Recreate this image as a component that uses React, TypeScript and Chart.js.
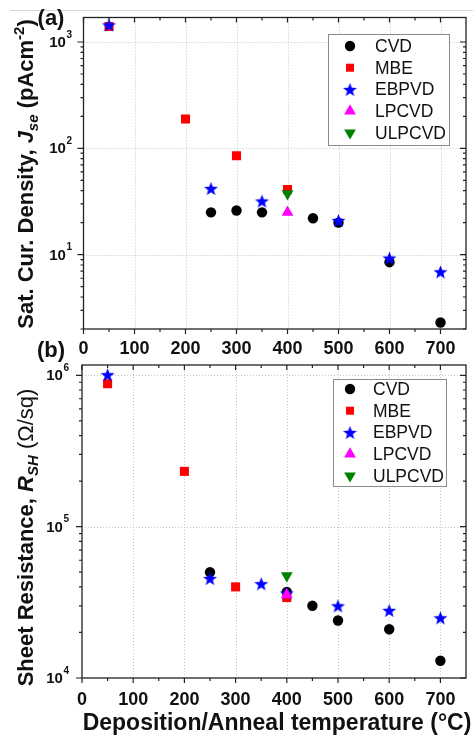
import React, { useEffect, useRef } from 'react';
import { Chart, registerables } from 'chart.js';

Chart.register(...registerables);

const FONT = '"Liberation Sans", Arial, Helvetica, sans-serif';

// ---- shared axis / legend data ----
const xTickValues = [0, 100, 200, 300, 400, 500, 600, 700];
const xTickLabels = ['0', '100', '200', '300', '400', '500', '600', '700'];
const xMinorValues = [50, 150, 250, 350, 450, 550, 650];
const seriesNames = ['CVD', 'MBE', 'EBPVD', 'LPCVD', 'ULPCVD'];
const seriesColors = ['#000000', '#ff0000', '#0000ff', '#ff00ff', '#008000'];
const xTitle = 'Deposition/Anneal temperature (°C)';

// ---- panel (a): saturation current density, pA/cm² ----
const cvdTempA = [250, 300, 350, 450, 500, 600, 700];
const cvdJse = [25, 26, 25, 22, 20, 8.5, 2.3];
const mbeTempA = [50, 200, 300, 400];
const mbeJse = [1400, 189, 85, 41];
const ebpvdTempA = [50, 250, 350, 500, 600, 700];
const ebpvdJse = [1450, 42, 32, 21, 9.3, 6.9];
const lpcvdTempA = [400];
const lpcvdJse = [25];
const ulpcvdTempA = [400];
const ulpcvdJse = [37.5];
const yTickValuesA = [10, 100, 1000];
const yTickExpA = ['1', '2', '3'];

// ---- panel (b): sheet resistance, Ω/sq ----
const cvdTempB = [250, 400, 450, 500, 600, 700];
const cvdRsh = [50000, 37000, 30000, 24000, 21000, 13000];
const mbeTempB = [50, 200, 300, 400];
const mbeRsh = [880000, 232000, 40000, 34000];
const ebpvdTempB = [50, 250, 350, 400, 500, 600, 700];
const ebpvdRsh = [1010000, 45500, 42000, 36500, 30000, 28000, 25000];
const lpcvdTempB = [400];
const lpcvdRsh = [35500];
const ulpcvdTempB = [400];
const ulpcvdRsh = [47500];
const yTickValuesB = [10000, 100000, 1000000];
const yTickExpB = ['4', '5', '6'];

type Seg = { t: string; f: string; dy?: number };

function makeStar(size: number, color: string): HTMLCanvasElement {
  const c = document.createElement('canvas');
  c.width = size;
  c.height = size;
  const g = c.getContext('2d')!;
  const cx = size / 2;
  const cy = size / 2 + size * 0.05;
  const R = size / 2 - 0.2;
  const r = R * 0.42;
  g.beginPath();
  for (let i = 0; i < 10; i++) {
    const ang = -Math.PI / 2 + (i * Math.PI) / 5;
    const rad = i % 2 === 0 ? R : r;
    g.lineTo(cx + rad * Math.cos(ang), cy + rad * Math.sin(ang));
  }
  g.closePath();
  g.fillStyle = color;
  g.fill();
  return c;
}

function drawMarker(ctx: CanvasRenderingContext2D, idx: number, x: number, y: number, star: HTMLCanvasElement) {
  ctx.save();
  ctx.fillStyle = seriesColors[idx];
  ctx.beginPath();
  if (idx === 0) {
    ctx.arc(x, y, 5.2, 0, Math.PI * 2);
    ctx.fill();
  } else if (idx === 1) {
    ctx.fillRect(x - 4, y - 4, 8, 8);
  } else if (idx === 2) {
    ctx.drawImage(star, x - star.width / 2, y - star.height / 2);
  } else {
    const r = 6.8;
    const s = idx === 3 ? 1 : -1;
    ctx.moveTo(x, y - s * r);
    ctx.lineTo(x + r * 0.866, y + s * r * 0.5);
    ctx.lineTo(x - r * 0.866, y + s * r * 0.5);
    ctx.closePath();
    ctx.fill();
  }
  ctx.restore();
}

type PanelCfg = {
  letter: string;
  letterY: number;
  yTicks: number[];
  yExp: string[];
  yLabelRight: number;
  yTitle: Seg[];
  yTitleCenter: number;
  xLabelBaseline: number;
  xTitleBaseline: number | null;
  legend: { left: number; top: number; right: number; bottom: number; mx: number; tx: number; y0: number; step: number };
  topRule: boolean;
};

function makeDecor(cfg: PanelCfg, star: HTMLCanvasElement) {
  return {
    id: 'panelDecor',
    beforeDatasetsDraw(chart: any) {
      const { ctx, chartArea: a, scales } = chart;
      const x = scales.x;
      const y = scales.y;
      ctx.save();
      ctx.strokeStyle = '#c4c4c4';
      ctx.lineWidth = 1;
      ctx.setLineDash([1, 2]);
      for (const v of xTickValues) {
        if (v === 0) continue;
        const px = Math.round(x.getPixelForValue(v)) + 0.5;
        ctx.beginPath();
        ctx.moveTo(px, a.top);
        ctx.lineTo(px, a.bottom);
        ctx.stroke();
      }
      for (const v of cfg.yTicks) {
        const py = Math.round(y.getPixelForValue(v)) + 0.5;
        if (py > a.bottom - 2) continue;
        ctx.beginPath();
        ctx.moveTo(a.left, py);
        ctx.lineTo(a.right, py);
        ctx.stroke();
      }
      ctx.restore();
    },
    afterDatasetsDraw(chart: any) {
      const { ctx, chartArea: a, scales } = chart;
      const x = scales.x;
      const y = scales.y;
      ctx.save();

      if (cfg.topRule) {
        ctx.strokeStyle = '#d6d6d6';
        ctx.lineWidth = 1;
        ctx.beginPath();
        ctx.moveTo(10, 10.5);
        ctx.lineTo(473, 10.5);
        ctx.stroke();
      }

      // frame
      ctx.strokeStyle = '#222';
      ctx.lineWidth = 1.3;
      ctx.strokeRect(a.left, a.top, a.right - a.left, a.bottom - a.top);

      // tick marks: outward on left/bottom, inward on right/top
      ctx.lineWidth = 1.2;
      const tickX = (v: number, len: number) => {
        const px = x.getPixelForValue(v);
        ctx.beginPath();
        ctx.moveTo(px, a.bottom);
        ctx.lineTo(px, a.bottom + len);
        ctx.moveTo(px, a.top);
        ctx.lineTo(px, a.top + len);
        ctx.stroke();
      };
      xTickValues.forEach((v) => tickX(v, 5));
      xMinorValues.forEach((v) => tickX(v, 3));
      const tickY = (v: number, len: number) => {
        const py = y.getPixelForValue(v);
        ctx.beginPath();
        ctx.moveTo(a.left, py);
        ctx.lineTo(a.left - len, py);
        ctx.moveTo(a.right, py);
        ctx.lineTo(a.right - len, py);
        ctx.stroke();
      };
      const lo = Math.floor(Math.log10(y.min));
      const hi = Math.ceil(Math.log10(y.max));
      for (let d = lo; d <= hi; d++) {
        for (let m = 1; m <= 9; m++) {
          const v = m * Math.pow(10, d);
          if (v < y.min * 0.999 || v > y.max) continue;
          tickY(v, m === 1 ? 6 : 3);
        }
      }

      // x tick labels
      ctx.fillStyle = '#111';
      ctx.font = `bold 18px ${FONT}`;
      ctx.textAlign = 'center';
      ctx.textBaseline = 'alphabetic';
      xTickValues.forEach((v, i) => {
        ctx.fillText(xTickLabels[i], x.getPixelForValue(v), cfg.xLabelBaseline);
      });

      // y tick labels (10 with superscript exponent)
      cfg.yTicks.forEach((v, i) => {
        const py = y.getPixelForValue(v);
        ctx.font = `bold 10px ${FONT}`;
        const ew = ctx.measureText(cfg.yExp[i]).width;
        ctx.textAlign = 'left';
        ctx.textBaseline = 'middle';
        ctx.fillText(cfg.yExp[i], cfg.yLabelRight - ew, py - 7);
        ctx.font = `bold 15px ${FONT}`;
        ctx.textAlign = 'right';
        ctx.fillText('10', cfg.yLabelRight - ew - 0.5, py + 1);
      });

      // rotated y title with sub/superscripts
      ctx.save();
      ctx.translate(32.5, cfg.yTitleCenter);
      ctx.rotate(-Math.PI / 2);
      ctx.textAlign = 'left';
      ctx.textBaseline = 'alphabetic';
      let total = 0;
      for (const s of cfg.yTitle) {
        ctx.font = `${s.f} ${FONT}`;
        total += ctx.measureText(s.t).width;
      }
      let cx = -total / 2;
      for (const s of cfg.yTitle) {
        ctx.font = `${s.f} ${FONT}`;
        ctx.fillText(s.t, cx, s.dy || 0);
        cx += ctx.measureText(s.t).width;
      }
      ctx.restore();

      // x title
      if (cfg.xTitleBaseline !== null) {
        ctx.font = `bold 23px ${FONT}`;
        ctx.textAlign = 'center';
        ctx.textBaseline = 'alphabetic';
        ctx.fillText(xTitle, 277, cfg.xTitleBaseline);
      }

      // panel letter
      ctx.font = `bold 22px ${FONT}`;
      ctx.textAlign = 'center';
      ctx.textBaseline = 'middle';
      ctx.fillText(cfg.letter, 51, cfg.letterY);

      // legend
      const L = cfg.legend;
      ctx.fillStyle = '#ffffff';
      ctx.fillRect(L.left, L.top, L.right - L.left, L.bottom - L.top);
      ctx.strokeStyle = '#8a8a8a';
      ctx.lineWidth = 1;
      ctx.strokeRect(L.left + 0.5, L.top + 0.5, L.right - L.left, L.bottom - L.top);
      ctx.font = `17.5px ${FONT}`;
      ctx.textAlign = 'left';
      ctx.textBaseline = 'middle';
      seriesNames.forEach((name, i) => {
        const ry = L.y0 + i * L.step;
        drawMarker(ctx, i, L.mx, ry, star);
        ctx.fillStyle = '#111';
        ctx.fillText(name, L.tx, ry + 1);
      });

      ctx.restore();
    },
  };
}

function toPoints(xs: number[], ys: number[]) {
  return xs.map((v, i) => ({ x: v, y: ys[i] }));
}

function buildDatasets(series: [number[], number[]][], star: HTMLCanvasElement) {
  const styles: any[] = [
    { pointStyle: 'circle', pointRadius: 5.2 },
    { pointStyle: 'rect', pointRadius: 6.4 },
    { pointStyle: star, pointRadius: 7 },
    { pointStyle: 'triangle', pointRadius: 6.8 },
    { pointStyle: 'triangle', pointRadius: 6.8, pointRotation: 180 },
  ];
  return series.map(([xs, ys], i) => ({
    label: seriesNames[i],
    data: toPoints(xs, ys),
    backgroundColor: seriesColors[i],
    borderColor: seriesColors[i],
    pointBorderWidth: 0,
    showLine: false,
    order: series.length - 1 - i,
    ...styles[i],
  }));
}

function buildChart(
  canvas: HTMLCanvasElement,
  series: [number[], number[]][],
  yMin: number,
  yMax: number,
  padding: { left: number; right: number; top: number; bottom: number },
  cfg: PanelCfg,
) {
  const star = makeStar(15, seriesColors[2]);
  return new Chart(canvas, {
    type: 'scatter',
    data: { datasets: buildDatasets(series, star) as any },
    options: {
      responsive: false,
      animation: false,
      events: [],
      layout: { padding },
      plugins: { legend: { display: false }, tooltip: { enabled: false } },
      scales: {
        x: { type: 'linear', min: 0, max: 750, display: false },
        y: { type: 'logarithmic', min: yMin, max: yMax, display: false },
      },
    },
    plugins: [makeDecor(cfg, star)],
  });
}

export default function App() {
  const refA = useRef<HTMLCanvasElement>(null);
  const refB = useRef<HTMLCanvasElement>(null);

  useEffect(() => {
    const chartA = buildChart(
      refA.current!,
      [
        [cvdTempA, cvdJse],
        [mbeTempA, mbeJse],
        [ebpvdTempA, ebpvdJse],
        [lpcvdTempA, lpcvdJse],
        [ulpcvdTempA, ulpcvdJse],
      ],
      2,
      1700,
      { left: 83.5, right: 2, top: 17.5, bottom: 31 },
      {
        letter: '(a)',
        letterY: 19,
        yTicks: yTickValuesA,
        yExp: yTickExpA,
        yLabelRight: 72,
        yTitle: [
          { t: 'Sat. Cur. Density, ', f: 'bold 22px' },
          { t: 'J', f: 'italic bold 22px' },
          { t: 'se', f: 'italic bold 15px', dy: 5 },
          { t: ' (pAcm', f: 'bold 22px' },
          { t: '-2', f: 'bold 15px', dy: -9 },
          { t: ')', f: 'bold 22px' },
        ],
        yTitleCenter: 174,
        xLabelBaseline: 353.5,
        xTitleBaseline: null,
        legend: { left: 328, top: 34, right: 449, bottom: 145, mx: 350, tx: 375, y0: 46, step: 21.7 },
        topRule: true,
      },
    );
    const chartB = buildChart(
      refB.current!,
      [
        [cvdTempB, cvdRsh],
        [mbeTempB, mbeRsh],
        [ebpvdTempB, ebpvdRsh],
        [lpcvdTempB, lpcvdRsh],
        [ulpcvdTempB, ulpcvdRsh],
      ],
      10000,
      1170000,
      { left: 82, right: 0.5, top: 29, bottom: 58 },
      {
        letter: '(b)',
        letterY: 15,
        yTicks: yTickValuesB,
        yExp: yTickExpB,
        yLabelRight: 69,
        yTitle: [
          { t: 'Sheet Resistance, ', f: 'bold 22px' },
          { t: 'R', f: 'italic bold 22px' },
          { t: 'SH', f: 'italic bold 15px', dy: 5 },
          { t: ' (Ω/sq)', f: '22px' },
        ],
        yTitleCenter: 201.5,
        xLabelBaseline: 369,
        xTitleBaseline: 394,
        legend: { left: 333, top: 43, right: 446, bottom: 150, mx: 350, tx: 373, y0: 53, step: 21.7 },
        topRule: false,
      },
    );
    return () => {
      chartA.destroy();
      chartB.destroy();
    };
  }, []);

  return (
    <div style={{ position: 'absolute', left: 0, top: 0, width: 473, height: 736, background: '#fff' }}>
      <canvas ref={refA} width={473} height={360} style={{ position: 'absolute', left: 0, top: 0, display: 'block' }} />
      <canvas ref={refB} width={473} height={400} style={{ position: 'absolute', left: 0, top: 336, display: 'block' }} />
    </div>
  );
}
